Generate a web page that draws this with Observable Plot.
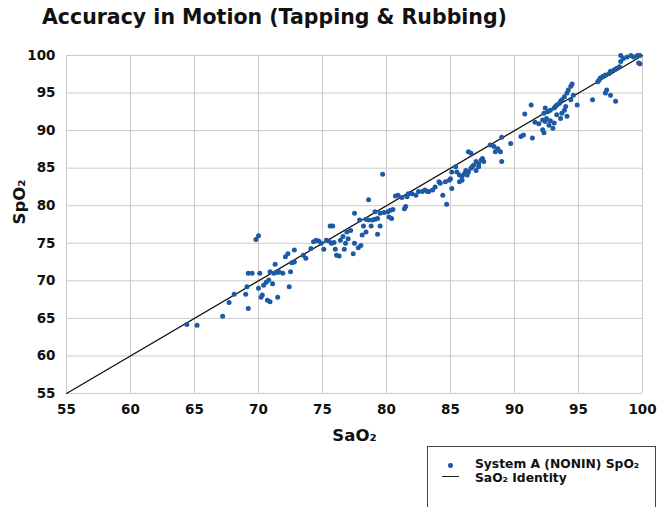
<!DOCTYPE html>
<html><head><meta charset="utf-8">
<script src="https://cdn.jsdelivr.net/npm/d3@7"></script>
<script src="https://cdn.jsdelivr.net/npm/@observablehq/plot@0.6"></script>
<style>
body{margin:0;background:#fff;}
#wrap{position:relative;width:657px;height:507px;overflow:hidden;font-family:"DejaVu Sans",sans-serif;color:#111;}
#title{position:absolute;left:42px;top:5px;font-weight:bold;font-size:20.5px;white-space:nowrap;}
#chart{position:absolute;left:0;top:0;}
#legend{position:absolute;left:427px;top:446px;width:227px;height:80px;border:1.5px solid #444;background:#fff;font-size:12.3px;font-weight:bold;}
#legend .row{position:absolute;left:47px;white-space:nowrap;line-height:14px;}
#legend .dot{position:absolute;left:20px;top:16px;width:4.5px;height:4.5px;border-radius:50%;}
#legend .ln{position:absolute;left:14px;top:29px;width:17px;height:0;border-top:1.3px solid #222;}
</style></head>
<body><div id="wrap">
<div id="chart"></div>
<div id="title">Accuracy in Motion (Tapping &amp; Rubbing)</div>
<div id="legend">
  <div class="dot" id="ldot"></div><div class="row" style="top:10px">System A (NONIN) SpO₂</div>
  <div class="ln"></div><div class="row" style="top:24px">SaO₂ Identity</div>
</div>
</div>
<script>
// SaO2 / SpO2 pairs, grouped by SaO2 range
const range64to74 = [[69.8,75.5],[70.0,76.0],[64.4,64.2],[65.2,64.1],[67.2,65.3],[67.7,67.1],[68.1,68.2],[69.0,68.2],[69.1,69.2],[69.2,66.3],[69.2,71.0],[69.5,71.0],[70.0,69.0],[70.1,71.0],[70.2,67.8],[70.3,68.1],[70.4,69.4],[70.6,69.8],[70.7,67.4],[70.8,70.1],[70.9,71.2],[71.1,69.6],[71.2,71.0],[71.3,72.2],[71.5,71.1],[71.6,71.2],[71.9,71.0],[71.5,67.8],[72.1,73.2],[72.3,73.6],[72.8,74.1],[72.4,69.2],[72.5,71.2],[72.6,72.4],[72.8,72.5],[73.5,73.4],[73.7,73.0],[70.9,67.2]];
const range74to83 = [[79.7,84.2],[78.6,80.8],[77.5,79.0],[75.6,77.3],[75.8,77.3],[76.9,76.5],[74.1,74.3],[74.3,75.2],[74.5,75.4],[74.7,75.3],[74.9,75.0],[75.1,74.2],[75.3,75.4],[75.5,75.3],[75.7,75.0],[75.9,75.1],[76.0,74.2],[76.1,73.4],[76.3,73.3],[76.4,75.4],[76.6,75.9],[76.7,74.2],[76.8,75.0],[77.0,75.6],[77.2,76.7],[77.4,73.6],[77.5,75.0],[77.8,74.4],[78.0,74.7],[78.1,76.1],[78.4,76.5],[77.9,78.1],[78.4,78.2],[78.6,78.1],[78.9,78.1],[79.1,78.2],[79.3,78.3],[78.2,77.3],[78.8,77.3],[79.5,77.3],[79.3,76.2],[79.1,79.2],[79.5,79.0],[79.8,79.1],[80.1,79.2],[80.3,79.4],[80.5,79.5],[80.2,78.5],[80.4,78.3],[80.7,81.3],[80.9,81.4],[81.2,81.1],[81.6,81.2],[81.7,81.6],[82.0,81.6],[82.3,81.4],[82.5,81.9],[82.8,81.9],[83.0,82.1],[83.2,81.9],[81.5,79.9],[81.4,79.6]];
const range83to93 = [[91.3,93.4],[90.8,92.2],[91.6,91.1],[91.9,90.9],[92.2,91.4],[92.4,91.2],[92.5,91.6],[92.7,90.7],[92.8,91.3],[93.0,90.3],[93.1,91.0],[92.2,90.1],[92.3,89.7],[91.4,89.0],[90.5,89.2],[90.7,89.4],[89.7,88.3],[89.0,89.1],[89.0,85.9],[88.7,87.6],[88.5,87.2],[88.9,87.2],[88.4,87.9],[88.1,88.1],[86.4,87.2],[86.6,87.0],[87.5,86.3],[87.4,86.1],[87.6,85.9],[87.2,85.6],[87.0,85.9],[86.8,85.4],[86.7,85.2],[86.6,85.0],[86.4,84.5],[86.2,84.7],[86.3,84.1],[86.1,84.3],[85.9,83.9],[85.7,84.1],[85.5,84.5],[85.4,85.2],[85.1,84.5],[85.0,83.6],[84.9,83.4],[84.6,83.2],[84.2,83.0],[84.1,83.2],[83.8,82.5],[83.6,82.1],[83.3,81.9],[84.4,81.4],[84.7,80.2],[85.7,83.2],[85.1,82.3],[85.9,83.4],[87.0,84.7],[87.2,85.2]];
const range92to100 = [[98.3,100],[98.5,99.6],[98.8,99.8],[99.1,100],[99.3,99.8],[99.6,100],[99.8,100],[99.7,99.0],[99.8,98.9],[98.3,99.2],[98.2,98.5],[98.0,98.3],[97.8,98.1],[97.5,97.9],[97.4,97.6],[97.1,97.4],[96.9,97.2],[96.7,97.0],[96.6,96.7],[96.5,96.5],[97.2,95.4],[97.1,95.0],[97.5,94.7],[97.9,93.9],[96.1,94.1],[94.5,96.2],[94.4,95.9],[94.2,95.4],[94.1,95.0],[93.9,94.5],[93.7,94.1],[93.6,93.9],[93.5,93.6],[93.3,93.4],[93.2,93.2],[93.1,93.0],[92.8,92.7],[92.6,92.5],[92.4,93.0],[92.3,92.3],[93.9,92.7],[94.0,93.2],[94.1,91.9],[93.7,92.3],[93.6,91.6],[93.3,92.1],[94.4,94.1],[94.9,93.4],[94.6,94.7]];
const identityEnds = [55, 100];
const xTicks = [55,60,65,70,75,80,85,90,95,100];
const yTicks = [55,60,65,70,75,80,85,90,95,100];
const dotColor = "#1c5aa5";

const points = [...range64to74, ...range74to83, ...range83to93, ...range92to100]
  .map(([sao2, spo2]) => ({sao2, spo2}));

const chart = Plot.plot({
  width: 657, height: 507,
  marginTop: 55, marginBottom: 114, marginLeft: 66, marginRight: 15,
  style: {fontFamily: "DejaVu Sans, sans-serif", fontSize: "13.5px", fontWeight: "bold", color: "#111", background: "transparent"},
  x: {domain: [55, 100], ticks: xTicks, label: null, tickSize: 0, tickPadding: 11},
  y: {domain: [55, 100], ticks: yTicks, label: null, tickSize: 0, tickPadding: 11},
  marks: [
    Plot.gridX(xTicks, {stroke: "#cbcbcb", strokeOpacity: 1, strokeWidth: 1}),
    Plot.gridY(yTicks, {stroke: "#cbcbcb", strokeOpacity: 1, strokeWidth: 1}),
    Plot.line(identityEnds, {x: d => d, y: d => d, stroke: "#111", strokeWidth: 1.3}),
    Plot.dot(points, {x: "sao2", y: "spo2", r: 2.5, fill: dotColor, stroke: "none"}),
    Plot.text(["SaO₂"], {frameAnchor: "bottom", dy: 47, fontSize: 16.5, fontWeight: "bold", fill: "#111"}),
    Plot.text(["SpO₂"], {frameAnchor: "left", dx: -47, rotate: -90, fontSize: 16.5, fontWeight: "bold", fill: "#111"})
  ]
});
document.getElementById("chart").appendChild(chart);
document.getElementById("ldot").style.background = dotColor;
</script>
</body></html>
